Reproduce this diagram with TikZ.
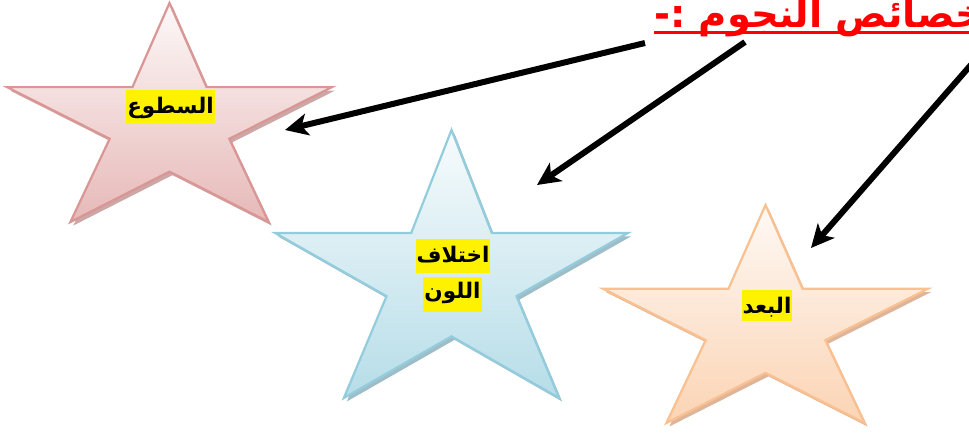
\documentclass[tikz,border=0pt]{standalone}
\usepackage{fontspec}
\usetikzlibrary{arrows.meta,calc}
\TeXXeTstate=1
\newfontfamily\arabicfont[Script=Arabic]{DejaVu Sans}
\definecolor{pinkline}{HTML}{D99694}
\definecolor{pinktop}{HTML}{FDF8F8}
\definecolor{pinkbot}{HTML}{E6B9B8}
\definecolor{pinkshadow}{HTML}{C29897}
\definecolor{blueline}{HTML}{93CDDD}
\definecolor{bluetop}{HTML}{F7FBFC}
\definecolor{bluebot}{HTML}{B6DDE8}
\definecolor{blueshadow}{HTML}{8EB2BC}
\definecolor{orangeline}{HTML}{FAC090}
\definecolor{orangetop}{HTML}{FEF9F5}
\definecolor{orangebot}{HTML}{FBD4B4}
\definecolor{orangeshadow}{HTML}{D6A88A}
\tikzset{
  starpath/.style n args={4}{insert path={(#1,#2) -- ({#1+0.114*#3},{#2+0.384*#4}) -- ({#1+0.5*#3},{#2+0.384*#4}) -- ({#1+0.184*#3},{#2+0.62*#4}) -- ({#1+0.305*#3},{#2+#4}) -- (#1,{#2+0.77*#4}) -- ({#1-0.305*#3},{#2+#4}) -- ({#1-0.184*#3},{#2+0.62*#4}) -- ({#1-0.5*#3},{#2+0.384*#4}) -- ({#1-0.114*#3},{#2+0.384*#4}) -- cycle}},
  starshadow/.style={fill=#1, fill opacity=0.85, shift={(3,3.5)}},
  starbody/.style n args={3}{draw=#1, line width=2.2pt, line join=miter, top color=#2, bottom color=#3},
  lab/.style={anchor=base, font=\arabicfont\bfseries\fontsize{21.5}{24}\selectfont, fill=yellow, text=black, inner xsep=1pt, inner ysep=0pt, text height=23pt, text depth=10pt},
  arrowline/.style={draw=black, line width=6pt, -{Stealth[length=23pt,width=22pt,inset=6pt]}},
}
\begin{document}
\begin{tikzpicture}[x=1pt,y=-1pt]
\useasboundingbox (0,0) rectangle (969,432);
\clip (0,0) rectangle (969,432);
% star 1 (pink)
\path[starshadow=pinkshadow] [starpath={169.5}{3}{325}{219}];
\path[starbody={pinkline}{pinktop}{pinkbot}] [starpath={169.5}{3}{325}{219}];
% star 2 (blue)
\path[starshadow=blueshadow] [starpath={451.5}{130}{353}{268}];
\path[starbody={blueline}{bluetop}{bluebot}] [starpath={451.5}{130}{353}{268}];
% star 3 (orange)
\path[starshadow=orangeshadow] [starpath={765.5}{205}{325}{218}];
\path[starbody={orangeline}{orangetop}{orangebot}] [starpath={765.5}{205}{325}{218}];
% labels
\node[lab] (l1) at (170.5,113) {\beginR السطوع\endR};
\node[lab, text depth=11pt] (l2a) at (453,262) {\beginR اختلاف\endR};
\node[lab, text height=21pt, text depth=14pt] (l2b) at (452.5,298) {\beginR اللون\endR};
\node[lab, text depth=8pt] (l3) at (767,313) {\beginR البعد\endR};
% title
\node[anchor=base west, text=red, inner sep=0pt, font=\arabicfont\bfseries\fontsize{38.5}{40}\selectfont] (title) at (654,27) {\beginR خصائص النجوم :-\endR};
\draw[red, line width=3pt] ($(title.base west)+(0,5.5)$) -- ($(title.base east)+(0,5.5)$);
% arrows
\coordinate (a1s) at (645,43);
\coordinate (a1e) at (285,130);
\coordinate (a2s) at (745,42);
\coordinate (a2e) at (537,185);
\coordinate (a3s) at (973,62.5);
\coordinate (a3e) at (811,248);
\draw[arrowline] (a1s) -- (a1e);
\draw[arrowline] (a2s) -- (a2e);
\draw[arrowline] (a3s) -- (a3e);
\end{tikzpicture}
\end{document}
